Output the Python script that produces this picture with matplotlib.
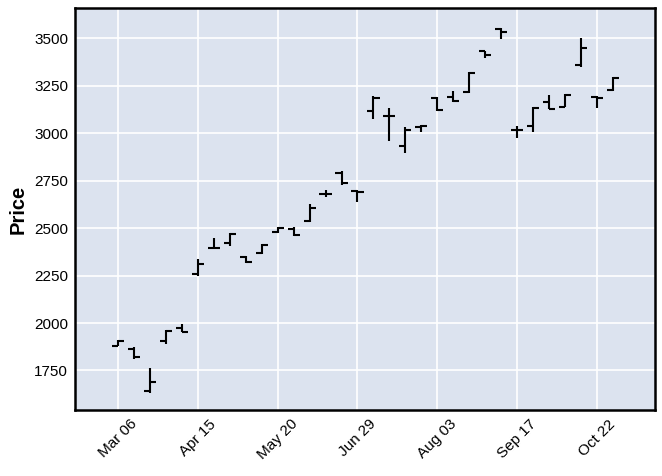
import numpy as np
import matplotlib
matplotlib.use('Agg')
import matplotlib.pyplot as plt
from matplotlib.collections import LineCollection

# weekly OHLC values
dates = ['2023-03-06', '2023-03-13', '2023-03-20', '2023-03-27', '2023-04-08',
         '2023-04-15', '2023-04-22', '2023-04-29', '2023-05-06', '2023-05-13',
         '2023-05-20', '2023-05-27', '2023-06-03', '2023-06-15', '2023-06-22',
         '2023-06-29', '2023-07-06', '2023-07-13', '2023-07-20', '2023-07-27',
         '2023-08-03', '2023-08-10', '2023-08-17', '2023-08-31', '2023-09-10',
         '2023-09-17', '2023-09-24', '2023-10-01', '2023-10-08', '2023-10-15',
         '2023-10-22', '2023-10-29']
opens  = [1880, 1862, 1644, 1905, 1972, 2258, 2395, 2420, 2346, 2370,
          2480, 2495, 2535, 2680, 2790, 2695, 3118, 3090, 2933, 3034,
          3186, 3188, 3215, 3430, 3548, 3015, 3040, 3163, 3140, 3357,
          3192, 3227]
highs  = [1910, 1872, 1765, 1963, 1995, 2337, 2446, 2472, 2352, 2416,
          2505, 2508, 2625, 2700, 2800, 2698, 3193, 3132, 3032, 3042,
          3188, 3223, 3320, 3435, 3553, 3035, 3135, 3200, 3205, 3500,
          3197, 3293]
lows   = [1877, 1808, 1630, 1890, 1952, 2250, 2393, 2405, 2316, 2364,
          2474, 2460, 2532, 2665, 2727, 2635, 3077, 2956, 2895, 3005,
          3114, 3163, 3212, 3396, 3495, 2975, 3005, 3126, 3138, 3347,
          3130, 3224]
closes = [1907, 1820, 1690, 1960, 1955, 2312, 2395, 2470, 2322, 2412,
          2502, 2466, 2608, 2682, 2736, 2688, 3187, 3088, 3014, 3038,
          3120, 3167, 3318, 3410, 3532, 3016, 3134, 3128, 3202, 3450,
          3183, 3290]

plt.rcParams['font.family'] = ['Liberation Sans', 'DejaVu Sans']

fig = plt.figure(figsize=(6.62, 4.76), dpi=100)
ax = fig.add_axes([0.1133, 0.1387, 0.8761, 0.8445])
ax.set_facecolor('#DCE3EF')

x = np.arange(len(dates))
tw = 0.38
segs = []
for i in x:
    segs.append([(i, lows[i]), (i, highs[i])])
    segs.append([(i - tw, opens[i]), (i, opens[i])])
    segs.append([(i, closes[i]), (i + tw, closes[i])])
ax.add_collection(LineCollection(segs, colors='k', linewidths=1.5))

ax.set_xlim(-2.69, 33.63)
ax.set_ylim(1542, 3659)

tick_idx = [0, 5, 10, 15, 20, 25, 30]
ax.set_xticks(tick_idx)
ax.set_xticklabels([np.datetime64(dates[i]).astype(object).strftime('%b %d') for i in tick_idx],
                   rotation=45, ha='center', fontsize=11)
ax.set_yticks([1750, 2000, 2250, 2500, 2750, 3000, 3250, 3500])
ax.tick_params(axis='y', labelsize=11)
ax.tick_params(length=0, pad=5)

ax.grid(True, color='white', linewidth=1.2)
ax.set_axisbelow(True)
for sp in ax.spines.values():
    sp.set_linewidth(1.8)
    sp.set_color('black')

ax.set_ylabel('Price', fontsize=14.5, fontweight='bold', labelpad=4.5)

plt.savefig('out.png', dpi=100)
plt.close('all')
